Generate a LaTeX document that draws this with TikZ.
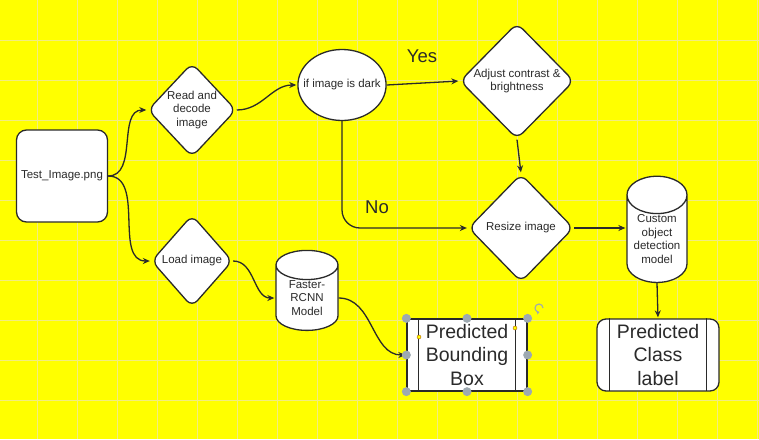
\documentclass[tikz,border=0pt]{standalone}
\usepackage{fontspec}
\setmainfont{Liberation Sans}
\usetikzlibrary{arrows.meta,positioning,shapes.geometric,backgrounds,calc}
\def\smallfont{\fontsize{11.5}{13.8}\selectfont}
\def\bigfont{\fontsize{19.5}{23.5}\selectfont}
\def\answerfont{\fontsize{18.5}{22}\selectfont}
\definecolor{paper}{HTML}{FFFF00}
\definecolor{gridline}{HTML}{F2EC80}
\definecolor{ink}{HTML}{2A2A2A}
\definecolor{handle}{HTML}{9DA9B1}

\begin{document}
\begin{tikzpicture}[x=1pt,y=-1pt,line width=1.3pt,draw=ink,shorten >=1pt, myarrow/.style={-{Stealth[length=7pt,width=6pt]}}]
    \useasboundingbox (0,0) rectangle (759,439);
    \tikzstyle{every node}=[text=ink]
    \tikzstyle{flowshape}=[draw=ink,fill=white,inner sep=0pt,align=center]
    \tikzstyle{startbox}=[flowshape,rectangle,rounded corners=10pt,minimum width=91pt,minimum height=92pt,font=\smallfont]
    \tikzstyle{decision}=[flowshape,diamond,rounded corners=8pt,font=\smallfont]
    \tikzstyle{test}=[flowshape,ellipse,inner xsep=-7.5pt,minimum height=71pt,font=\smallfont]
    \tikzstyle{model}=[flowshape,cylinder,shape border rotate=90,aspect=0.8,font=\smallfont]
    \tikzstyle{result}=[flowshape,rectangle,minimum height=72pt,font=\bigfont]
    \tikzstyle{answer}=[font=\answerfont]

    % Draw the nodes
    \node[startbox] (img) at (62,176) {Test\_Image.png};
    \node[decision,minimum width=81pt,minimum height=94pt] (read) at (192,110) {Read and\\decode\\image};
    \node[decision,minimum width=81pt,minimum height=92pt] (load) at (192,261) {Load image};
    \node[test] (dark) at (342,85) {if image is dark};
    \node[decision,minimum width=114pt,minimum height=116pt] (adjust) at (517,81) {Adjust contrast \&\\brightness};
    \node[decision,minimum width=105pt,minimum height=108pt] (resize) at (521,228) {Resize image};
    \node[model,minimum width=60pt,minimum height=96pt] (custom) at (657,239) {Custom\\object\\detection\\model};
    \node[model,minimum width=62pt,minimum height=66pt] (rcnn) at (307,298) {Faster-\\RCNN\\Model};
    \node[result,minimum width=120pt] (bbox) at (467,355) {Predicted\\Bounding\\Box};
    \node[result,minimum width=122pt,rounded corners=9pt] (label) at (658,355) {Predicted\\Class\\label};

    \node[answer] (yes) at (422,56) {Yes};
    \node[answer] (no) at (377,207) {No};

    % inner bars of the result boxes
    \draw ($(bbox.north west)+(12,0)$) -- ($(bbox.south west)+(12,0)$);
    \draw ($(bbox.north east)+(-12,0)$) -- ($(bbox.south east)+(-12,0)$);
    \draw ($(label.north west)+(13,0)$) -- ($(label.south west)+(13,0)$);
    \draw ($(label.north east)+(-13,0)$) -- ($(label.south east)+(-13,0)$);

    % Connect every node
    \foreach \dest in {read,load}
        \draw [myarrow] (img.east) to[out=0,in=180] (\dest.west);
    \draw [myarrow] (read.east) to[out=0,in=180] (dark.west);
    \draw [myarrow] (dark.east) -- (adjust.west);
    \draw [myarrow,rounded corners=18pt] (dark.south) |- (resize.west);
    \draw [myarrow] (adjust.south) -- (resize.north);
    \draw [myarrow] (resize) -- (resize -| custom.180);
    \draw [myarrow] (custom.-90) -- (label.north);
    \draw [myarrow] (load.east) to[out=0,in=180] (rcnn.180);
    \draw [myarrow] (rcnn.0) to[out=0,in=180] (bbox.west);

    % selection handles
    \foreach \a in {north west,north,north east,west,east,south west,south,south east}
        \fill[handle] (bbox.\a) circle (4.5pt);
    \fill[paper,draw=orange!70!black,line width=0.4pt] (419,337) circle (2pt);
    \fill[paper,draw=orange!70!black,line width=0.4pt] (515,328) circle (2pt);
    \draw[handle,line width=1.1pt,-{Stealth[length=3pt,width=3pt]}] (543,308) arc (0:290:4pt);

    \begin{scope}[on background layer]
        \fill[paper] (0,0) rectangle (759,439);
        \foreach \gx in {37,77,...,757}
            \fill[gridline] (\gx,0) rectangle (\gx+1.2,439);
        \foreach \gy in {40,80,...,400}
            \fill[gridline] (0,\gy) rectangle (759,\gy+1);
    \end{scope}
\end{tikzpicture}
\end{document}
